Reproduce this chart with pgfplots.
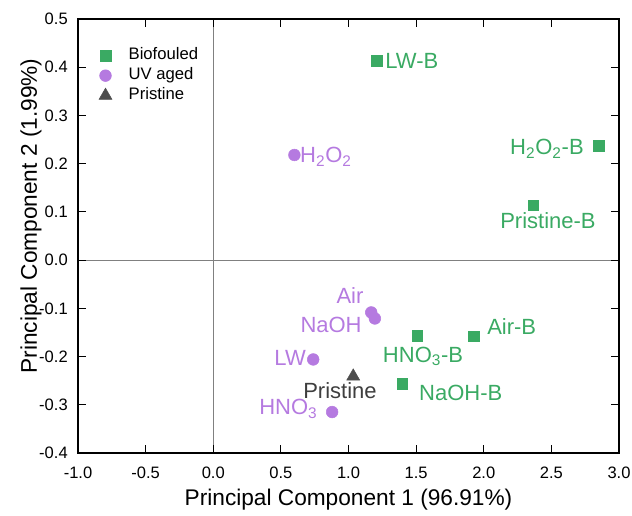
\documentclass[border=0pt]{standalone}
\usepackage{fontspec}
\setmainfont{Liberation Sans}
\usepackage{pgfplots}
\pgfplotsset{compat=1.18}
\definecolor{bio}{RGB}{58,170,99}
\definecolor{uv}{RGB}{181,122,224}
\definecolor{pri}{RGB}{77,77,77}

\begin{document}
\begin{tikzpicture}
\begin{axis}[
  at={(0,0)}, anchor=south west,
  scale only axis, width=405.75pt, height=325.5pt,
  xmin=-1, xmax=3, ymin=-0.4, ymax=0.5,
  xtick={-1,-0.5,0,0.5,1,1.5,2,2.5,3},
  xticklabels={-1.0,-0.5,0.0,0.5,1.0,1.5,2.0,2.5,3.0},
  ytick={-0.4,-0.3,-0.2,-0.1,0,0.1,0.2,0.3,0.4,0.5},
  yticklabels={-0.4,-0.3,-0.2,-0.1,0.0,0.1,0.2,0.3,0.4,0.5},
  tick align=inside, major tick length=6pt,
  axis line style={line width=1pt},
  tick style={line width=0.8pt, black},
  tick label style={font=\fontsize{12.4}{14}\selectfont},
  xticklabel style={inner sep=0pt, yshift=-10.5pt},
  yticklabel style={inner sep=0pt, xshift=-7.5pt},
  extra x ticks={0}, extra x tick labels={},
  extra y ticks={0}, extra y tick labels={},
  extra tick style={grid=major, major grid style={gray, line width=0.5pt}},
  xlabel={Principal Component 1 (96.91\%)},
  ylabel={Principal Component 2 (1.99\%)},
  label style={font=\fontsize{17}{20}\selectfont},
  xlabel style={at={(axis description cs:0.5,-0.1221)}, anchor=base},
  ylabel style={at={(axis description cs:-0.0760,0.546)}, anchor=base},
  legend style={at={(axis description cs:0.031,0.9400)}, anchor=north west,
    draw=none, fill=none, font=\fontsize{12.5}{15}\selectfont,
    nodes={inner sep=0pt, text height=9pt, text depth=2.5pt},
    row sep=3.5pt, column sep=12.5pt},
  legend cell align=left,
  clip=false,
]
\addplot[only marks, mark=square*, mark size=4pt, color=bio] coordinates {
  (1.207,0.413) (2.852,0.237) (2.365,0.114)
  (1.509,-0.157) (1.924,-0.158) (1.398,-0.256)};
\addlegendentry{Biofouled}
\addplot[only marks, mark=*, mark size=4.4pt, color=uv] coordinates {
  (0.600,0.218) (1.168,-0.1085) (1.195,-0.121) (0.739,-0.206) (0.879,-0.315)};
\addlegendentry{UV aged}
\addplot[only marks, mark=triangle*, mark size=5.6pt, color=pri] coordinates {
  (1.035,-0.241)};
\addlegendentry{Pristine}

\begin{scope}[every node/.style={font=\fontsize{16.5}{19}\selectfont, inner sep=0pt}]
\node[bio, anchor=base west] at (axis cs:1.270,0.397) {LW-B};
\node[uv, anchor=base west] at (axis cs:0.641,0.202) {H\textsubscript{2}O\textsubscript{2}};
\node[bio, anchor=base east] at (axis cs:2.741,0.218) {H\textsubscript{2}O\textsubscript{2}-B};
\node[bio, anchor=base] at (axis cs:2.475,0.0664) {Pristine-B};
\node[uv, anchor=base] at (axis cs:1.011,-0.0903) {Air};
\node[uv, anchor=base east] at (axis cs:1.099,-0.150) {NaOH};
\node[bio, anchor=base west] at (axis cs:1.253,-0.212) {HNO\textsubscript{3}-B};
\node[bio, anchor=base west] at (axis cs:2.024,-0.155) {Air-B};
\node[uv, anchor=base east] at (axis cs:0.686,-0.219) {LW};
\node[pri!80!black, anchor=base] at (axis cs:0.937,-0.288) {Pristine};
\node[bio, anchor=base west] at (axis cs:1.521,-0.2915) {NaOH-B};
\node[uv, anchor=base east] at (axis cs:0.772,-0.321) {HNO\textsubscript{3}};
\end{scope}
\end{axis}
\pgfresetboundingbox
\path (-58.5pt,-46.5pt) rectangle (415.5pt,339.75pt);
\end{tikzpicture}
\end{document}
